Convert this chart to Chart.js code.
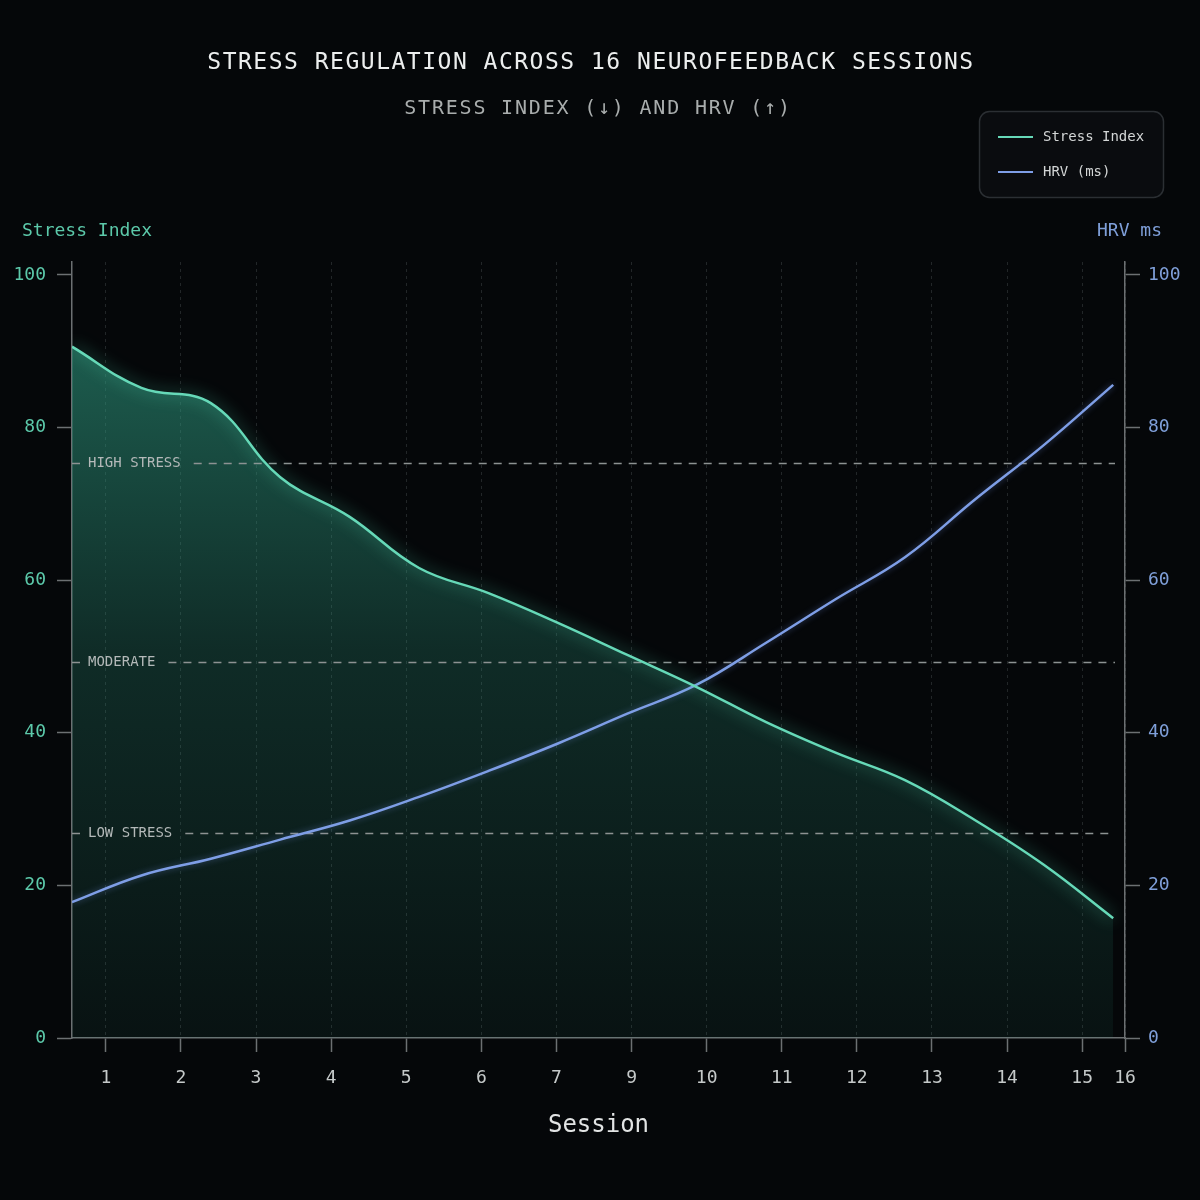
<!DOCTYPE html>
<html>
<head>
<meta charset="utf-8">
<script src="https://cdn.jsdelivr.net/npm/chart.js@4.4.1/dist/chart.umd.min.js"></script>
<style>
  html, body { margin: 0; padding: 0; background: #050709; }
  #wrap { width: 1200px; height: 1200px; }
</style>
</head>
<body>
<div id="wrap"><canvas id="chart" width="1200" height="1200"></canvas></div>
<script>
// data
const sessions = [1, 2, 3, 4, 5, 6, 7, 8, 9, 10, 11, 12, 13, 14, 15, 16];
const stressIndex = [90.6, 85.2, 83.2, 73.5, 68.3, 61.6, 58.3, 54.4, 50.2, 46.0, 41.4, 37.4, 33.8, 28.6, 22.7, 15.7];
const hrvMs = [17.8, 21.3, 23.5, 26.0, 28.5, 31.6, 35.0, 38.6, 42.5, 46.3, 51.8, 57.5, 63.0, 70.5, 77.7, 85.6];
// tick labels as printed under the axis (8 is missing in the original)
const xTickLabels = ['1', '2', '3', '4', '5', '6', '7', '9', '10', '11', '12', '13', '14', '15', '16'];
const yTicks = [0, 20, 40, 60, 80, 100];
const zoneNames = ['HIGH STRESS', 'MODERATE', 'LOW STRESS'];
const zoneValues = [75.4, 49.3, 26.9];

const titleText = 'STRESS REGULATION ACROSS 16 NEUROFEEDBACK SESSIONS';
const subtitleText = 'STRESS INDEX (\u2193) AND HRV (\u2191)';

const MONO = "'DejaVu Sans Mono', 'Liberation Mono', monospace";
const TEAL = '#66d9b8';
const BLUE = '#7e9ee6';
const AXIS = '#6c7072';

Chart.defaults.font.family = MONO;

const ctx = document.getElementById('chart').getContext('2d');

// glow on the lines (fill is already drawn before datasets)
const glow = {
    id: 'glow',
    beforeDatasetDraw(chart, args) {
        const c = chart.ctx;
        c.save();
        if (args.index === 0) {
            c.shadowColor = 'rgba(90, 225, 185, 0.75)';
            c.shadowBlur = 16;
        } else {
            c.shadowColor = 'rgba(120, 150, 235, 0.45)';
            c.shadowBlur = 6;
        }
    },
    afterDatasetDraw(chart) {
        chart.ctx.restore();
    }
};

// stress zone reference lines
const zones = {
    id: 'zones',
    beforeDatasetsDraw(chart) {
        const c = chart.ctx;
        const area = chart.chartArea;
        const y = chart.scales.y;
        c.save();
        c.font = '14px ' + MONO;
        c.textBaseline = 'middle';
        c.textAlign = 'left';
        for (let i = 0; i < zoneNames.length; i++) {
            const py = Math.round(y.getPixelForValue(zoneValues[i])) + 0.5;
            const tx = area.left + 16;
            const tw = c.measureText(zoneNames[i]).width;
            c.strokeStyle = '#8d9292';
            c.lineWidth = 1.5;
            c.setLineDash([8, 7]);
            c.beginPath();
            c.moveTo(area.left, py);
            c.lineTo(tx - 7, py);
            c.moveTo(tx + tw + 13, py);
            c.lineTo(area.right - 10, py);
            c.stroke();
            c.fillStyle = '#b4b9b9';
            c.fillText(zoneNames[i], tx, py);
        }
        c.restore();
    }
};

// titles, axis captions and the boxed legend
const decor = {
    id: 'decor',
    beforeDraw(chart) {
        const c = chart.ctx;
        c.save();
        c.fillStyle = '#050709';
        c.fillRect(0, 0, chart.width, chart.height);
        c.restore();
    },
    afterDraw(chart) {
        const c = chart.ctx;
        c.save();
        c.textBaseline = 'middle';
        c.textAlign = 'center';
        c.letterSpacing = '1.5px';
        c.fillStyle = '#eceeee';
        c.font = '23px ' + MONO;
        c.fillText(titleText, 591, 63);
        c.letterSpacing = '1.8px';
        c.fillStyle = '#a9adad';
        c.font = '20px ' + MONO;
        c.fillText(subtitleText, 598, 109);
        c.letterSpacing = '0px';

        // axis captions
        c.font = '18px ' + MONO;
        c.textAlign = 'left';
        c.fillStyle = '#5cc9aa';
        c.fillText('Stress Index', 22, 231);
        c.textAlign = 'right';
        c.fillStyle = '#7f9fd9';
        c.fillText('HRV ms', 1162, 231);

        // legend box
        const bx = 979, by = 111, bw = 184, bh = 86;
        c.beginPath();
        c.roundRect(bx + 0.5, by + 0.5, bw, bh, 10);
        c.fillStyle = '#0a0c0f';
        c.fill();
        c.strokeStyle = '#2b2f33';
        c.lineWidth = 1.5;
        c.stroke();
        c.font = '14px ' + MONO;
        c.textAlign = 'left';
        chart.data.datasets.forEach((ds, i) => {
            const ly = by + 26 + i * 35;
            c.strokeStyle = ds.borderColor;
            c.lineWidth = 2;
            c.beginPath();
            c.moveTo(bx + 19, ly);
            c.lineTo(bx + 54, ly);
            c.stroke();
            c.fillStyle = '#d3d6d6';
            c.fillText(ds.label, bx + 64, ly);
        });
        c.restore();
    }
};

const yTickBuilder = (s) => { s.ticks = yTicks.map(v => ({ value: v })); };

const chart = new Chart(ctx, {
    type: 'line',
    data: {
        datasets: [{
            label: 'Stress Index',
            data: sessions.map((s, i) => ({ x: s, y: stressIndex[i] })),
            xAxisID: 'x',
            yAxisID: 'y',
            borderColor: TEAL,
            borderWidth: 2.5,
            tension: 0.4,
            pointRadius: 0,
            fill: 'origin',
            backgroundColor: (context) => {
                const a = context.chart.chartArea;
                if (!a) return 'rgba(45,150,125,0.4)';
                const g = context.chart.ctx.createLinearGradient(0, a.top, 0, a.bottom);
                g.addColorStop(0, 'rgba(45,150,125,0.64)');
                g.addColorStop(0.15, 'rgba(45,150,125,0.56)');
                g.addColorStop(0.5, 'rgba(45,150,125,0.26)');
                g.addColorStop(1, 'rgba(45,150,125,0.08)');
                return g;
            }
        }, {
            label: 'HRV (ms)',
            data: sessions.map((s, i) => ({ x: s, y: hrvMs[i] })),
            xAxisID: 'x',
            yAxisID: 'y1',
            borderColor: BLUE,
            borderWidth: 2.5,
            tension: 0.4,
            pointRadius: 0,
            fill: false
        }]
    },
    options: {
        responsive: false,
        animation: false,
        devicePixelRatio: 1,
        layout: { padding: { top: 262, left: 0, right: 0, bottom: 0 } },
        plugins: {
            legend: { display: false },
            tooltip: { enabled: false },
            filler: { drawTime: 'beforeDatasetsDraw' }
        },
        scales: {
            // data axis, hidden
            x: {
                type: 'linear',
                display: false,
                min: 1,
                max: 16.17
            },
            // printed session axis
            xt: {
                type: 'linear',
                position: 'bottom',
                min: 0.55,
                max: 14.57,
                afterBuildTicks: (s) => {
                    s.ticks = xTickLabels.map((l, i) => ({ value: Math.min(i + 1, s.max) }));
                },
                afterFit: (s) => { s.height = 162; },
                ticks: {
                    autoSkip: false,
                    maxRotation: 0,
                    color: '#c5c9c9',
                    font: { size: 18 },
                    padding: 16,
                    callback: (v, i) => xTickLabels[i]
                },
                grid: {
                    color: 'rgba(140,150,150,0.22)',
                    lineWidth: 1,
                    tickColor: AXIS,
                    tickLength: 14,
                    tickWidth: 1.5,
                    tickBorderDash: []
                },
                border: { color: AXIS, width: 1.5, dash: [3, 4] },
                title: {
                    display: true,
                    text: 'Session',
                    color: '#e2e4e4',
                    font: { size: 24 },
                    padding: { top: 0, bottom: 60 }
                }
            },
            y: {
                position: 'left',
                min: 0,
                max: 101.7,
                afterBuildTicks: yTickBuilder,
                afterFit: (s) => { s.width = 72; },
                ticks: { color: '#5cc9aa', font: { size: 18 }, padding: 11 },
                grid: { drawOnChartArea: false, tickLength: 15, tickColor: AXIS, tickWidth: 1.5 },
                border: { color: AXIS, width: 1.5 }
            },
            y1: {
                position: 'right',
                min: 0,
                max: 101.7,
                afterBuildTicks: yTickBuilder,
                afterFit: (s) => { s.width = 75; },
                ticks: { color: '#7f9fd9', font: { size: 18 }, padding: 8 },
                grid: { drawOnChartArea: false, tickLength: 15, tickColor: AXIS, tickWidth: 1.5 },
                border: { color: AXIS, width: 1.5 }
            }
        }
    },
    plugins: [decor, zones, glow]
});
</script>
</body>
</html>
